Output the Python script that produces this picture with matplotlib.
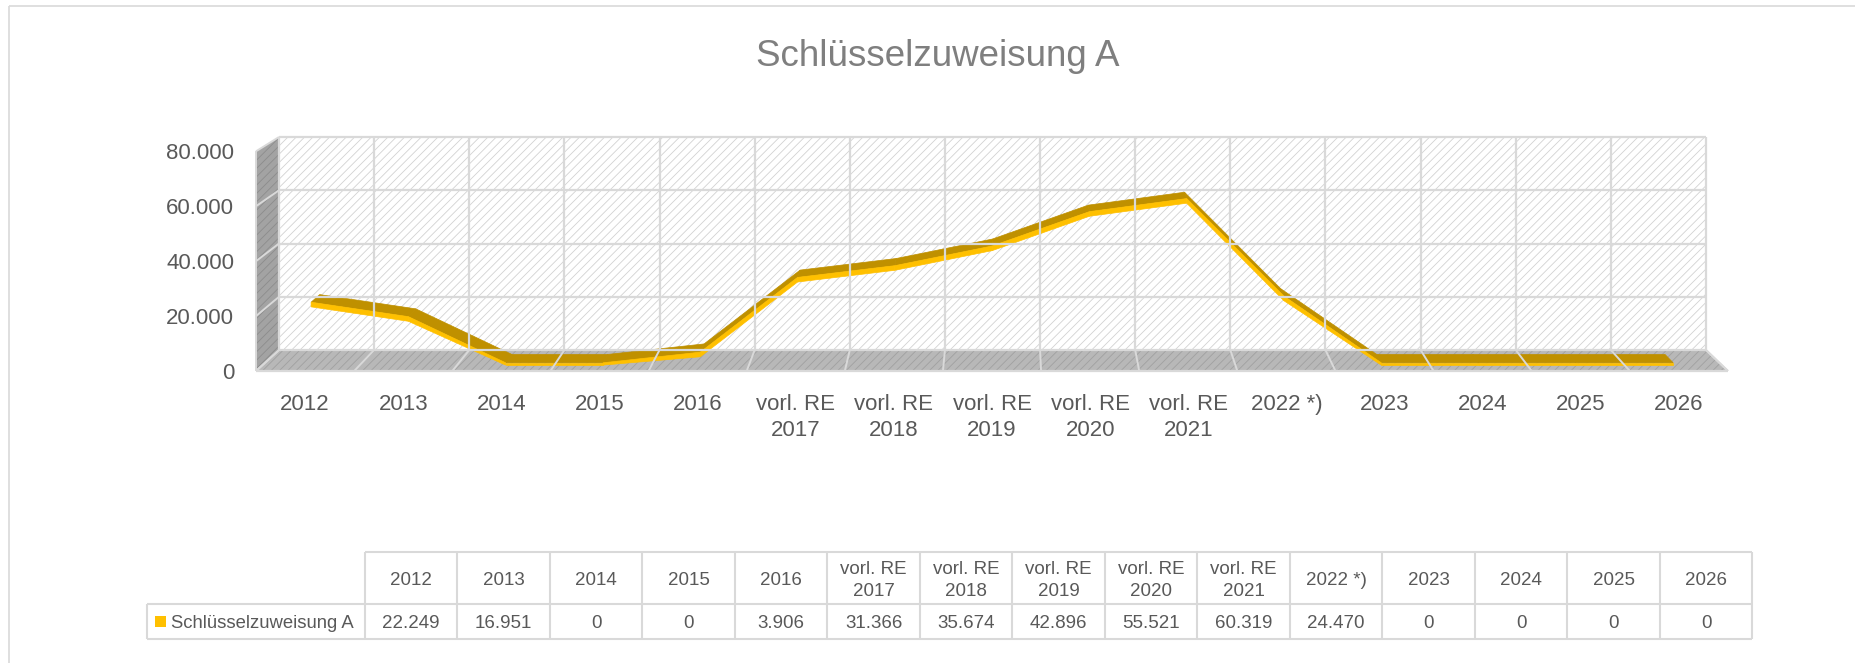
import numpy as np
import matplotlib.pyplot as plt
from matplotlib.patches import Polygon, Rectangle

plt.rcParams['font.family'] = ['Liberation Sans', 'DejaVu Sans']
plt.rcParams['hatch.linewidth'] = 0.6

# data
title = 'Schlüsselzuweisung A'
series_name = 'Schlüsselzuweisung A'
categories = ['2012', '2013', '2014', '2015', '2016',
              'vorl. RE\n2017', 'vorl. RE\n2018', 'vorl. RE\n2019',
              'vorl. RE\n2020', 'vorl. RE\n2021', '2022 *)',
              '2023', '2024', '2025', '2026']
values = [22249, 16951, 0, 0, 3906, 31366, 35674, 42896, 55521, 60319,
          24470, 0, 0, 0, 0]
y_ticks = [0, 20000, 40000, 60000, 80000]
y_max = 80000

GRID = '#d9d9d9'
TXT = '#595959'
GOLD = '#ffc000'
GOLD_DARK = '#bf9000'


def fmt(v):
    return f'{v:,}'.replace(',', '.')


W, H = 1856, 663
fig = plt.figure(figsize=(W / 100, H / 100), dpi=100)
canvas = fig.add_axes([0, 0, 1, 1])
canvas.set_xlim(0, W)
canvas.set_ylim(H, 0)
canvas.axis('off')

# back wall axes: gives the category / value scales
wall = fig.add_axes([279 / W, (H - 350) / H, (1706 - 279) / W, 213 / H])
wall.set_xlim(0, len(categories))
wall.set_ylim(0, y_max)
wall.axis('off')

# perspective: depth 0 = back wall, 1 = front edge
VP = np.array([1008.0, H + 317.0])
PERSP = 0.0315


def pt(c, v, d):
    xy = wall.transData.transform((c, v))
    xy = VP + (xy - VP) * (1 + PERSP * d)
    return xy[0], H - xy[1]


def seg(p, q, **kw):
    canvas.plot([p[0], q[0]], [p[1], q[1]], solid_capstyle='butt', **kw)


n = len(categories)

# back wall
canvas.add_patch(Polygon([pt(0, 0, 0), pt(n, 0, 0), pt(n, y_max, 0), pt(0, y_max, 0)],
                         fc='white', ec='#d2d2d2', lw=0, hatch='////'))
for v in y_ticks:
    seg(pt(0, v, 0), pt(n, v, 0), color=GRID, lw=1.6)
for c in range(n + 1):
    seg(pt(c, 0, 0), pt(c, y_max, 0), color=GRID, lw=1.6)

# side wall
canvas.add_patch(Polygon([pt(0, 0, 0), pt(0, y_max, 0), pt(0, y_max, 1), pt(0, 0, 1)],
                         fc='#a3a3a3', ec='#8c8c8c', lw=0, hatch='////'))
for v in y_ticks:
    seg(pt(0, v, 0), pt(0, v, 1), color=GRID, lw=1.4)
seg(pt(0, 0, 1), pt(0, y_max, 1), color=GRID, lw=1.4)

# floor
canvas.add_patch(Polygon([pt(0, 0, 0), pt(n, 0, 0), pt(n, 0, 1), pt(0, 0, 1)],
                         fc='#b8b8b8', ec='#a0a0a0', lw=0, hatch='////'))
for c in range(n + 1):
    seg(pt(c, 0, 0), pt(c, 0, 1), color=GRID, lw=1.4)
seg(pt(0, 0, 1), pt(n, 0, 1), color=GRID, lw=1.6)
seg(pt(n, 0, 0), pt(n, 0, 1), color=GRID, lw=1.4)

# ribbon line: dark top face, yellow front face
vals = np.array(values, dtype=float)
thick = 1700
top = vals + thick / 2
bot = np.maximum(vals - thick / 2, 0)
D1, D2 = 0.32, 0.72
cx = np.arange(n) + 0.5
for i in range(n - 1):
    canvas.add_patch(Polygon([pt(cx[i], top[i], D1), pt(cx[i + 1], top[i + 1], D1),
                              pt(cx[i + 1], top[i + 1], D2), pt(cx[i], top[i], D2)],
                             fc=GOLD_DARK, ec=GOLD_DARK, lw=0.5))
for i in range(n - 1):
    canvas.add_patch(Polygon([pt(cx[i], top[i], D2), pt(cx[i + 1], top[i + 1], D2),
                              pt(cx[i + 1], bot[i + 1], D2), pt(cx[i], bot[i], D2)],
                             fc=GOLD, ec=GOLD, lw=0.5))

# axis labels
for v in y_ticks:
    x, y = pt(0, v, 1)
    canvas.text(x - 22, y + 8, fmt(v), ha='right', va='baseline', fontsize=16, color=TXT)
for i, lab in enumerate(categories):
    x, y = pt(i + 0.5, 0, 1)
    for k, line in enumerate(lab.split('\n')):
        canvas.text(x, y + 39 + 26 * k, line, ha='center', va='baseline',
                    fontsize=16, color=TXT)

# title
canvas.text(938, 66.5, title, ha='center', va='baseline', fontsize=26.5, color='#7f7f7f')

# chart border
seg((9, 6), (W, 6), color=GRID, lw=1.2)
seg((9, 6), (9, H), color=GRID, lw=1.2)

# data table
t_left, t_col0, colw = 147, 365, 92.5
r0, r1, r2 = 552, 604, 639
t_right = t_col0 + n * colw
seg((t_col0, r0), (t_right, r0), color=GRID, lw=1.5)
seg((t_left, r1), (t_right, r1), color=GRID, lw=1.5)
seg((t_left, r2), (t_right, r2), color=GRID, lw=1.5)
seg((t_left, r1), (t_left, r2), color=GRID, lw=1.5)
for j in range(n + 1):
    x = t_col0 + j * colw
    seg((x, r0), (x, r2), color=GRID, lw=1.5)
for j, lab in enumerate(categories):
    xc = t_col0 + (j + 0.5) * colw
    lines = lab.split('\n')
    for k, line in enumerate(lines):
        yc = (r0 + r1) / 2 + (k - (len(lines) - 1) / 2) * 23
        canvas.text(xc, yc + 7, line, ha='center', va='baseline', fontsize=13.5, color=TXT)
    canvas.text(xc, (r1 + r2) / 2 + 7, fmt(values[j]), ha='center', va='baseline',
                fontsize=13.5, color=TXT)
canvas.add_patch(Rectangle((155, 615.5), 11.5, 11.5, fc=GOLD, ec='none'))
canvas.text(171, (r1 + r2) / 2 + 7, series_name, ha='left', va='baseline',
            fontsize=13.3, color=TXT)

fig.savefig('out.png', dpi=100)
